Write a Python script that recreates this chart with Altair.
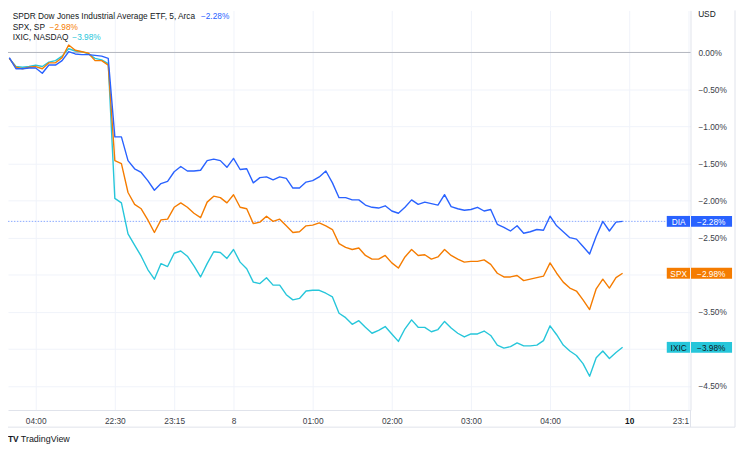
import json
import altair as alt
import pandas as pd

# ---------------- data (percent change vs. reference close) ----------------
bar_index = list(range(-16, 78))  # 5-minute bars; 0 = 22:30 session open

dia = [-0.07, -0.22, -0.22, -0.21, -0.21, -0.28, -0.17, -0.17, -0.11, 0.01, -0.02, -0.03, -0.03, -0.04, -0.05, -0.08,
       -1.14, -1.14, -1.46, -1.57, -1.62, -1.73, -1.86, -1.77, -1.74, -1.61,
       -1.54, -1.60, -1.60, -1.59, -1.46, -1.44, -1.46, -1.55, -1.43, -1.58,
       -1.57, -1.76, -1.69, -1.68, -1.72, -1.68, -1.70, -1.83, -1.83, -1.75,
       -1.73, -1.68, -1.60, -1.76, -1.96, -1.96,
       -1.99, -1.99, -2.06, -2.09, -2.10, -2.07, -2.14, -2.17, -2.09, -1.99,
       -2.05, -2.02, -2.04, -2.06, -1.92, -2.08, -2.11, -2.13, -2.12, -2.09,
       -2.14, -2.12, -2.32, -2.36, -2.41, -2.34, -2.44, -2.42, -2.39, -2.40,
       -2.21, -2.34, -2.42, -2.50, -2.52, -2.62, -2.72, -2.48, -2.28, -2.41,
       -2.29, -2.28]

spx = [-0.08, -0.20, -0.22, -0.20, -0.19, -0.22, -0.14, -0.14, -0.07, 0.10, 0.03, 0.01, -0.01, -0.11, -0.11, -0.17,
       -1.46, -1.50, -1.89, -2.05, -2.11, -2.26, -2.43, -2.26, -2.25, -2.09,
       -2.03, -2.09, -2.17, -2.23, -2.02, -1.94, -1.96, -2.03, -1.92, -2.09,
       -2.11, -2.31, -2.29, -2.21, -2.28, -2.25, -2.34, -2.43, -2.42, -2.34,
       -2.33, -2.30, -2.34, -2.39, -2.58, -2.63,
       -2.66, -2.64, -2.74, -2.79, -2.79, -2.74, -2.84, -2.91, -2.76, -2.66,
       -2.74, -2.73, -2.79, -2.76, -2.66, -2.74, -2.79, -2.83, -2.82, -2.82,
       -2.80, -2.86, -2.98, -3.03, -3.03, -3.01, -3.08, -3.06, -3.04, -3.02,
       -2.84, -2.98, -3.10, -3.18, -3.22, -3.34, -3.47, -3.19, -3.06, -3.18,
       -3.04, -2.98]

ixic = [-0.08, -0.19, -0.20, -0.19, -0.17, -0.19, -0.13, -0.11, -0.05, 0.05, 0.02, 0.01, -0.02, -0.08, -0.10, -0.15,
        -1.97, -2.03, -2.45, -2.60, -2.75, -2.93, -3.06, -2.85, -2.89, -2.71,
        -2.68, -2.75, -2.88, -3.03, -2.85, -2.69, -2.70, -2.78, -2.66, -2.83,
        -2.92, -3.10, -3.12, -3.04, -3.14, -3.14, -3.27, -3.34, -3.32, -3.22,
        -3.21, -3.21, -3.25, -3.30, -3.52, -3.58,
        -3.67, -3.62, -3.71, -3.79, -3.75, -3.70, -3.80, -3.90, -3.73, -3.61,
        -3.71, -3.71, -3.77, -3.74, -3.63, -3.72, -3.79, -3.84, -3.80, -3.80,
        -3.76, -3.82, -3.95, -3.99, -3.97, -3.92, -3.96, -3.96, -3.95, -3.89,
        -3.69, -3.81, -3.95, -4.03, -4.09, -4.20, -4.37, -4.12, -4.03, -4.13,
        -4.05, -3.98]

series_names = ["DIA", "SPX", "IXIC"]
series_titles = ["SPDR Dow Jones Industrial Average ETF, 5, Arca", "SPX, SP", "IXIC, NASDAQ"]
last_values = [-2.28, -2.98, -3.98]

x_tick_pos = [-12, 0, 9, 18, 30, 42, 54, 66, 78, 87]
x_tick_labels = ["04:00", "22:30", "23:15", "8", "01:00", "02:00", "03:00", "04:00", "10", "23:1"]
y_tick_values = [0, -0.5, -1.0, -1.5, -2.0, -2.5, -3.0, -3.5, -4.0, -4.5]

# ---------------- styling ----------------
series_colors = ["#2962FF", "#F57C00", "#26C6DA"]
FONT = "Liberation Sans"
FS = 8.4
TEXT = "#131722"
AXIS_TEXT = "#3B3E48"
GRID = "#F0F3FA"
FRAME = "#E0E3EB"
W, H = 690, 404
X_DOMAIN = [-16.2, 87.3]
Y_DOMAIN = [-4.8265, 0.5674]

# ---------------- tables ----------------
rows = []
for name, vals in zip(series_names, [dia, spx, ixic]):
    for b, v in zip(bar_index, vals):
        rows.append({"bar": b, "value": v, "name": name})
lines_df = pd.DataFrame(rows)

tags_df = pd.DataFrame({
    "name": series_names,
    "title": series_titles,
    "value": last_values,
    "label": ["\u2212" + f"{abs(v):.2f}%" for v in last_values],
})

x_label_expr = f"{json.dumps(x_tick_labels)}[indexof({json.dumps(x_tick_pos)}, datum.value)]"

x_enc = alt.X(
    "bar:Q",
    scale=alt.Scale(domain=X_DOMAIN, nice=False, zero=False),
    axis=alt.Axis(
        values=x_tick_pos, labelExpr=x_label_expr, title=None,
        grid=True, gridColor=GRID, gridWidth=1,
        domain=True, domainColor=FRAME, ticks=False, tickSize=0,
        labelPadding=7, labelFont=FONT, labelFontSize=FS,
        labelColor={"condition": {"test": "datum.value === 78", "value": TEXT}, "value": AXIS_TEXT},
        labelFontWeight={"condition": {"test": "datum.value === 78", "value": "bold"}, "value": "normal"},
        labelAlign={"condition": {"test": "datum.value === 87", "value": "right"}, "value": "center"},
        labelOverlap=False, labelFlush=False,
    ),
)

y_enc = alt.Y(
    "value:Q",
    scale=alt.Scale(domain=Y_DOMAIN, nice=False, zero=False),
    axis=alt.Axis(
        orient="right", values=y_tick_values, title=None,
        labelExpr="datum.value === -3 || datum.value === -4 ? '' : format(datum.value, '.2f') + '%'",
        grid=True, gridColor=GRID, gridWidth=1,
        domain=True, domainColor=FRAME, ticks=False, tickSize=0,
        labelPadding=7.5, labelAlign="left", labelBaseline="middle",
        labelFont=FONT, labelFontSize=FS, labelColor=AXIS_TEXT,
        labelOverlap=False, labelFlush=False,
    ),
)

color_enc = alt.Color("name:N", scale=alt.Scale(domain=series_names, range=series_colors), legend=None)

base_lines = alt.Chart(lines_df)

zero_rule = alt.Chart(pd.DataFrame({"value": [0.0]})).mark_rule(
    color="#B2B5BE", strokeWidth=1
).encode(y=y_enc)

dia_tags = tags_df[tags_df["name"] == "DIA"]
dia_price_line = alt.Chart(dia_tags).mark_rule(
    color="#2962FF", strokeDash=[1.5, 1.5], strokeWidth=1, opacity=0.55
).encode(y=y_enc, x=alt.value(0), x2=alt.value(666))

line_layers = [
    base_lines.transform_filter(alt.datum.name == n)
    .mark_line(strokeWidth=1.4, clip=True, strokeJoin="round")
    .encode(x=x_enc, y=y_enc, color=color_enc)
    for n in ["IXIC", "SPX", "DIA"]
]

tag_left = alt.Chart(tags_df).mark_rule(strokeWidth=11, strokeCap="butt").encode(
    x=alt.value(666), x2=alt.value(689.5), y=y_enc, color=color_enc)
tag_right = alt.Chart(tags_df).mark_rule(strokeWidth=11, strokeCap="butt").encode(
    x=alt.value(690.5), x2=alt.value(732), y=y_enc, color=color_enc)
tag_text_color = alt.condition("datum.name === 'IXIC'", alt.value(TEXT), alt.value("#FFFFFF"))
tag_name = alt.Chart(tags_df).mark_text(
    font=FONT, fontSize=FS, align="center", baseline="middle", dy=0.5
).encode(x=alt.value(678), y=y_enc, text="name:N", color=tag_text_color)
tag_value = alt.Chart(tags_df).mark_text(
    font=FONT, fontSize=FS, align="center", baseline="middle", dy=0.5
).encode(x=alt.value(711), y=y_enc, text="label:N", color=tag_text_color)

# legend (top-left header)
legend_y = [5.2, 16.4, 27.4]
legend_val_x = [195, 42, 65]
legend_layers = []
for k, name in enumerate(series_names):
    row = tags_df[tags_df["name"] == name]
    legend_layers.append(
        alt.Chart(row).mark_text(font=FONT, fontSize=8.4, align="left", baseline="middle", color=TEXT)
        .encode(x=alt.value(4.7), y=alt.value(legend_y[k]), text="title:N")
    )
    legend_layers.append(
        alt.Chart(row).mark_text(font=FONT, fontSize=8.4, align="left", baseline="middle")
        .encode(x=alt.value(legend_val_x[k]), y=alt.value(legend_y[k]), text="label:N", color=color_enc)
    )

anno_df = pd.DataFrame({"t": ["USD", "TradingView", "TV"]})
usd = alt.Chart(anno_df[anno_df.t == "USD"]).mark_text(
    font=FONT, fontSize=FS, align="left", baseline="middle", color=TEXT
).encode(x=alt.value(697.7), y=alt.value(3.2), text="t:N")
tv_word = alt.Chart(anno_df[anno_df.t == "TradingView"]).mark_text(
    font=FONT, fontSize=9, align="left", baseline="middle", color=TEXT
).encode(x=alt.value(13), y=alt.value(433), text="t:N")
tv_logo = alt.Chart(anno_df[anno_df.t == "TV"]).mark_text(
    font=FONT, fontSize=8.5, fontWeight="bold", align="left", baseline="middle", color=TEXT
).encode(x=alt.value(0), y=alt.value(433), text="t:N")

frame_right_axis_ext = alt.Chart(anno_df.head(1)).mark_rule(color=FRAME).encode(
    x=alt.value(690), y=alt.value(404), y2=alt.value(421.3))
frame_bottom = alt.Chart(anno_df.head(1)).mark_rule(color=FRAME).encode(
    x=alt.value(0), x2=alt.value(735), y=alt.value(421.3))
frame_right = alt.Chart(anno_df.head(1)).mark_rule(color=FRAME).encode(
    x=alt.value(735), y=alt.value(0), y2=alt.value(421.3))

chart = alt.layer(
    zero_rule, dia_price_line, *line_layers,
    tag_left, tag_right, tag_name, tag_value,
    *legend_layers, usd, tv_word, tv_logo,
    frame_right_axis_ext, frame_bottom, frame_right,
).properties(
    width=W, height=H,
    autosize=alt.AutoSizeParams(type="none"),
    padding={"left": 0, "top": 0, "right": 47, "bottom": 42},
    background="#FFFFFF",
).configure_view(stroke="transparent")

chart.save("out.html", embed_options={"renderer": "svg", "actions": False})
